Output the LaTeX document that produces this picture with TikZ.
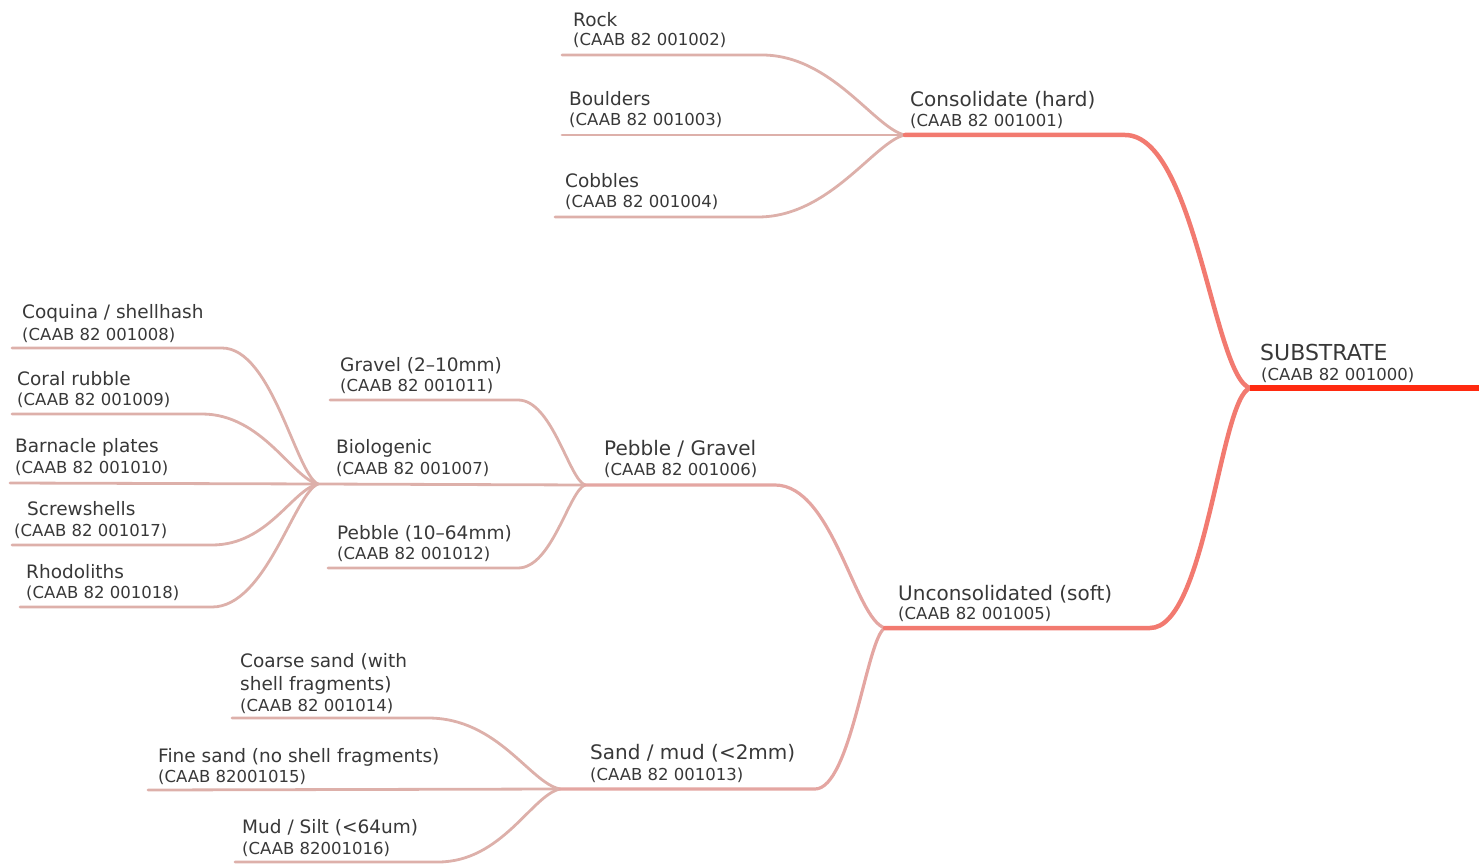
\documentclass[tikz,border=0pt]{standalone}
\usepackage{fontspec}
\setmainfont{DejaVu Sans}
\definecolor{txtc}{HTML}{383838}
\definecolor{rootc}{HTML}{FF2A10}
\definecolor{topc}{HTML}{F27A70}
\definecolor{midc}{HTML}{E4A6A2}
\definecolor{leafc}{HTML}{DDB0AA}
\tikzset{
  namefont/.style={font=\fontsize{18.5}{22}\selectfont},
  midfont/.style={font=\fontsize{20}{24}\selectfont},
  rootfont/.style={font=\fontsize{22}{26}\selectfont},
  codefont/.style={font=\fontsize{16.5}{20}\selectfont},
  lbl/.style={anchor=base west, inner sep=0pt, text=txtc},
  leafline/.style={draw=leafc, line width=2.8pt, line cap=round},
  midline/.style={draw=midc, line width=3.2pt, line cap=round},
  topline/.style={draw=topc, line width=4.5pt, line cap=round},
  rootline/.style={draw=rootc, line width=6pt},
}
\begin{document}
\begin{tikzpicture}[x=1pt,y=-1pt]
\useasboundingbox (0,0) rectangle (1479,866);

% ---------- coordinates of lines ----------
\coordinate (subL) at (1250,388);  \coordinate (subR) at (1479,388);
\coordinate (consL) at (905,135);  \coordinate (consR) at (1125,135);
\coordinate (uncL) at (885,628);   \coordinate (uncR) at (1150,628);
\coordinate (rockL) at (562,55);   \coordinate (rockR) at (762,55);
\coordinate (bouL) at (562,135);
\coordinate (cobL) at (555,217);   \coordinate (cobR) at (758,217);
\coordinate (pebgL) at (585,485);  \coordinate (pebgR) at (775,485);
\coordinate (sandL) at (560,789);  \coordinate (sandR) at (815,789);
\coordinate (gravL) at (330,400);  \coordinate (gravR) at (518,400);
\coordinate (bioL) at (318,484);
\coordinate (pebL) at (328,568);   \coordinate (pebR) at (518,568);
\coordinate (coqL) at (12,348);    \coordinate (coqR) at (222,348);
\coordinate (corL) at (12,414);    \coordinate (corR) at (202,414);
\coordinate (barL) at (10,483);
\coordinate (scrL) at (12,545);    \coordinate (scrR) at (212,545);
\coordinate (rhoL) at (20,607);    \coordinate (rhoR) at (212,607);
\coordinate (coaL) at (232,718);   \coordinate (coaR) at (428,718);
\coordinate (finL) at (148,790);
\coordinate (mudL) at (235,862);   \coordinate (mudR) at (438,862);

% ---------- leaf connectors ----------
\draw[leafline] (rockL) -- (rockR) .. controls +(70,0) and +(-30,-6) .. (consL);
\draw[leafline] (bouL) -- (consL);
\draw[leafline] (cobL) -- (cobR) .. controls +(72,0) and +(-30,6) .. (consL);

\draw[leafline] (coqL) -- (coqR) .. controls +(50,0) and +(-22,-10) .. (bioL);
\draw[leafline] (corL) -- (corR) .. controls +(60,0) and +(-26,-6) .. (bioL);
\draw[leafline] (barL) -- (bioL);
\draw[leafline] (scrL) -- (scrR) .. controls +(56,0) and +(-26,6) .. (bioL);
\draw[leafline] (rhoL) -- (rhoR) .. controls +(54,0) and +(-24,10) .. (bioL);

\draw[leafline] (gravL) -- (gravR) .. controls +(34,0) and +(-16,-6) .. (pebgL);
\draw[leafline] (bioL) -- (pebgL);
\draw[leafline] (pebL) -- (pebR) .. controls +(34,0) and +(-16,6) .. (pebgL);

\draw[leafline] (coaL) -- (coaR) .. controls +(70,0) and +(-30,-6) .. (sandL);
\draw[leafline] (finL) -- (sandL);
\draw[leafline] (mudL) -- (mudR) .. controls +(64,0) and +(-28,6) .. (sandL);

% ---------- middle connectors ----------
\draw[midline] (pebgL) -- (pebgR) .. controls +(58,0) and +(-30,-8) .. (uncL);
\draw[midline] (sandL) -- (sandR) .. controls +(36,0) and +(-18,8) .. (uncL);

% ---------- top connectors ----------
\draw[topline] (consL) -- (consR) .. controls +(70,0) and +(-36,-10) .. (subL);
\draw[topline] (uncL) -- (uncR) .. controls +(56,0) and +(-30,10) .. (subL);

% ---------- root ----------
\draw[rootline] (subL) -- (subR);

% ---------- labels ----------
\node[lbl,rootfont] (sub) at (1260,360) {SUBSTRATE};
\node[lbl,codefont] (subcode) at (1261,380) {(CAAB 82 001000)};

\node[lbl,midfont] (cons) at (910,107) {Consolidate (hard)};
\node[lbl,codefont] (conscode) at (910,127) {(CAAB 82 001001)};

\node[lbl,midfont] (unc) at (898,600) {Unconsolidated (soft)};
\node[lbl,codefont] (unccode) at (898,619) {(CAAB 82 001005)};

\node[lbl,namefont] (rock) at (573,27) {Rock};
\node[lbl,codefont] (rockcode) at (573,46) {(CAAB 82 001002)};
\node[lbl,namefont] (bou) at (569,106) {Boulders};
\node[lbl,codefont] (boucode) at (569,126) {(CAAB 82 001003)};
\node[lbl,namefont] (cob) at (565,188) {Cobbles};
\node[lbl,codefont] (cobcode) at (565,208) {(CAAB 82 001004)};

\node[lbl,midfont] (pebg) at (604,455) {Pebble / Gravel};
\node[lbl,codefont] (pebgcode) at (604,475) {(CAAB 82 001006)};
\node[lbl,namefont] (grav) at (340,371) {Gravel (2–10mm)};
\node[lbl,codefont] (gravcode) at (340,391) {(CAAB 82 001011)};
\node[lbl,namefont] (bio) at (336,453) {Biologenic};
\node[lbl,codefont] (biocode) at (336,474) {(CAAB 82 001007)};
\node[lbl,namefont] (peb) at (337,539) {Pebble (10–64mm)};
\node[lbl,codefont] (pebcode) at (337,559) {(CAAB 82 001012)};

\node[lbl,namefont] (coq) at (22,319) {Coquina / shellhash};
\node[lbl,codefont] (coqcode) at (22,340) {(CAAB 82 001008)};
\node[lbl,namefont] (cor) at (17,385) {Coral rubble};
\node[lbl,codefont] (corcode) at (17,405) {(CAAB 82 001009)};
\node[lbl,namefont] (bar) at (15,452) {Barnacle plates};
\node[lbl,codefont] (barcode) at (15,473) {(CAAB 82 001010)};
\node[lbl,namefont] (scr) at (27,515) {Screwshells};
\node[lbl,codefont] (scrcode) at (14,536) {(CAAB 82 001017)};
\node[lbl,namefont] (rho) at (26,578) {Rhodoliths};
\node[lbl,codefont] (rhocode) at (26,598) {(CAAB 82 001018)};

\node[lbl,midfont] (sand) at (590,759) {Sand / mud (<2mm)};
\node[lbl,codefont] (sandcode) at (590,780) {(CAAB 82 001013)};
\node[lbl,namefont] (coa) at (240,667) {Coarse sand (with};
\node[lbl,namefont] (coa2) at (240,690) {shell fragments)};
\node[lbl,codefont] (coacode) at (240,711) {(CAAB 82 001014)};
\node[lbl,namefont] (fin) at (158,762) {Fine sand (no shell fragments)};
\node[lbl,codefont] (fincode) at (158,782) {(CAAB 82001015)};
\node[lbl,namefont] (mud) at (242,833) {Mud / Silt (<64um)};
\node[lbl,codefont] (mudcode) at (242,854) {(CAAB 82001016)};
\end{tikzpicture}
\end{document}
